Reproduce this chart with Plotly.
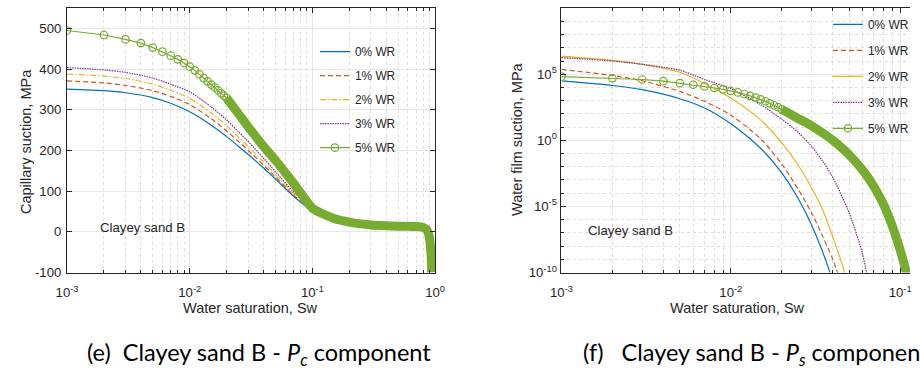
import plotly.graph_objects as go

# ---------------- Capillary suction (Pc) panel ----------------
sw_pc = [0.001, 0.002, 0.003, 0.005, 0.007, 0.01, 0.015, 0.02, 0.025, 0.03,
         0.04, 0.05, 0.07, 0.1, 0.15, 0.2, 0.3, 0.5, 0.7, 0.8]
pc_0wr = [351, 347, 342, 330, 316, 295, 262, 234, 210, 190,
          157, 130, 88, 52, 33, 24, 17, 14, 13, 12]
pc_1wr = [371, 366, 360, 347, 333, 313, 278, 248, 222, 200,
          164, 135, 91, 54, 33, 24, 17, 14, 13, 12]
pc_2wr = [388, 383, 377, 363, 348, 328, 292, 261, 233, 210,
          172, 141, 95, 56, 33, 24, 17, 14, 13, 12]
pc_3wr = [404, 398, 392, 378, 363, 344, 307, 275, 246, 222,
          181, 148, 99, 58, 33, 24, 17, 14, 13, 12]

# 5% WR: individually visible samples, then the densely packed tail
sw_pc_5wr = [0.001, 0.002, 0.003, 0.004, 0.005, 0.006, 0.007, 0.008, 0.009, 0.010,
             0.011, 0.012, 0.013, 0.014, 0.015, 0.016, 0.017, 0.018, 0.019, 0.020]
pc_5wr = [495, 484, 473, 464, 453, 443, 433, 424, 415, 406,
          397, 387, 378, 370, 362, 355, 348, 341, 335, 329]
sw_pc_5wr_tail = [0.02, 0.025, 0.03, 0.035, 0.04, 0.05, 0.06, 0.07, 0.08, 0.1,
                  0.12, 0.15, 0.2, 0.25, 0.3, 0.4, 0.5, 0.6, 0.7, 0.75,
                  0.8, 0.85, 0.88, 0.9, 0.91, 0.92, 0.93, 0.94]
pc_5wr_tail = [329, 290, 258, 232, 210, 176, 146, 120, 96, 58,
               45, 33, 24, 19.5, 17, 15, 14, 13.5, 13, 12.5,
               11, 6, -3, -15, -27, -42, -63, -100]

# ---------------- Water film suction (Ps) panel ----------------
sw_ps_0wr = [0.001, 0.002, 0.003, 0.005, 0.007, 0.01, 0.015, 0.02, 0.025, 0.03, 0.035, 0.04]
ps_0wr = [3.1e4, 1.4e4, 6.8e3, 1.4e3, 2.8e2, 18, 0.25, 3.5e-3, 4e-5, 4e-7, 3.2e-9, 2.5e-11]
sw_ps_1wr = [0.001, 0.002, 0.003, 0.005, 0.007, 0.01, 0.015, 0.02, 0.025, 0.03, 0.035, 0.04, 0.045]
ps_1wr = [2.3e5, 8e4, 3.2e4, 5e3, 9e2, 80, 1.3, 1.6e-2, 2e-4, 3.2e-6, 5e-8, 1e-9, 1.3e-11]
sw_ps_2wr = [0.001, 0.002, 0.003, 0.005, 0.007, 0.01, 0.015, 0.02, 0.025, 0.03, 0.035,
             0.04, 0.045, 0.05]
ps_2wr = [2.3e6, 1.1e6, 5.6e5, 1.4e5, 2e4, 1.6e3, 35, 0.63, 1.3e-2, 2.5e-4, 5e-6,
          5e-8, 6.3e-10, 6.3e-12]
sw_ps_3wr = [0.001, 0.002, 0.003, 0.005, 0.007, 0.01, 0.015, 0.02, 0.025, 0.03, 0.035,
             0.04, 0.05, 0.06, 0.065]
ps_3wr = [1.8e6, 1e6, 5.6e5, 2e5, 4e4, 8e3, 5e2, 40, 4, 0.35, 2.5e-2,
          1.6e-3, 3.2e-6, 2.5e-9, 1.6e-11]

sw_ps_5wr = [0.001, 0.002, 0.003, 0.004, 0.005, 0.006, 0.007, 0.008, 0.009, 0.010,
             0.011, 0.012, 0.013, 0.014, 0.015, 0.016, 0.017, 0.018, 0.019, 0.020]
ps_5wr = [6.5e4, 4.9e4, 4e4, 3e4, 2.1e4, 1.6e4, 1.2e4, 9.1e3, 7.1e3, 5.4e3,
          4.2e3, 3.2e3, 2.3e3, 1.7e3, 1.26e3, 9e2, 6.3e2, 4.5e2, 3.2e2, 2.2e2]
sw_ps_5wr_tail = [0.02, 0.025, 0.03, 0.035, 0.04, 0.05, 0.06, 0.07, 0.08, 0.09,
                  0.1, 0.11, 0.115]
ps_5wr_tail = [2.2e2, 45, 12.6, 3.5, 1.0, 8e-2, 5.6e-3, 3.2e-4, 1.3e-5, 3.2e-7,
               5e-9, 6.3e-11, 6.3e-12]

series_names = ["0% WR", "1% WR", "2% WR", "3% WR", "5% WR"]

# ---------------- styling ----------------
W, H = 920, 372
C_BLUE, C_ORANGE, C_YELLOW, C_PURPLE, C_GREEN = "#0072BD", "#D95319", "#EDB120", "#7E2F8E", "#77AC30"
AX = "#262626"
GRID = "#e6e6e6"
MINOR_GRID = "#dedede"
FONT = "Liberation Sans, Arial, sans-serif"
LW = 1.2


def px_x(p):
    return p / W


def px_y(p):
    return 1 - p / H


fig = go.Figure()


def add_line(x, y, name, color, dash, xa, ya, legend):
    fig.add_trace(go.Scatter(
        x=x, y=y, name=name, mode="lines", xaxis=xa, yaxis=ya,
        line=dict(color=color, width=LW, dash=dash, shape="spline", smoothing=0.8),
        legend=legend, legendgroup=legend + name, showlegend=True))


# Pc panel curves
add_line(sw_pc, pc_0wr, series_names[0], C_BLUE, "solid", "x", "y", "legend")
add_line(sw_pc, pc_1wr, series_names[1], C_ORANGE, "5px,3px", "x", "y", "legend")
add_line(sw_pc, pc_2wr, series_names[2], C_YELLOW, "6px,2px,1.5px,2px", "x", "y", "legend")
add_line(sw_pc, pc_3wr, series_names[3], C_PURPLE, "1.5px,1px", "x", "y", "legend")
fig.add_trace(go.Scatter(
    x=sw_pc_5wr_tail, y=pc_5wr_tail, mode="lines", xaxis="x", yaxis="y",
    line=dict(color=C_GREEN, width=9, shape="spline", smoothing=0.6),
    showlegend=False, hoverinfo="skip"))
fig.add_trace(go.Scatter(
    x=sw_pc_5wr, y=pc_5wr, name=series_names[4], mode="lines+markers", xaxis="x", yaxis="y",
    line=dict(color=C_GREEN, width=LW),
    marker=dict(symbol="circle-open", size=7.5, color=C_GREEN, line=dict(width=1.2, color=C_GREEN)),
    legend="legend", legendgroup="legend5"))

# Ps panel curves
add_line(sw_ps_0wr, ps_0wr, series_names[0], C_BLUE, "solid", "x2", "y2", "legend2")
add_line(sw_ps_1wr, ps_1wr, series_names[1], C_ORANGE, "5px,3px", "x2", "y2", "legend2")
add_line(sw_ps_2wr, ps_2wr, series_names[2], C_YELLOW, "solid", "x2", "y2", "legend2")
add_line(sw_ps_3wr, ps_3wr, series_names[3], C_PURPLE, "1.5px,1px", "x2", "y2", "legend2")
fig.add_trace(go.Scatter(
    x=sw_ps_5wr_tail, y=ps_5wr_tail, mode="lines", xaxis="x2", yaxis="y2",
    line=dict(color=C_GREEN, width=9, shape="spline", smoothing=0.6),
    showlegend=False, hoverinfo="skip"))
fig.add_trace(go.Scatter(
    x=sw_ps_5wr, y=ps_5wr, name=series_names[4], mode="lines+markers", xaxis="x2", yaxis="y2",
    line=dict(color=C_GREEN, width=LW),
    marker=dict(symbol="circle-open", size=7.5, color=C_GREEN, line=dict(width=1.2, color=C_GREEN)),
    legend="legend2", legendgroup="legend25"))

# ---------------- axes ----------------
tick_font = dict(family=FONT, size=13.2, color=AX)
minor_x = [m * 10.0 ** e for e in (-3, -2, -1) for m in range(2, 10)]
minor_y2 = [10.0 ** k for k in range(-10, 11) if k % 5]

common = dict(showline=True, linecolor=AX, linewidth=1, ticks="inside", ticklen=5,
              tickcolor=AX, tickwidth=1, showgrid=True, gridcolor=GRID, gridwidth=1,
              zeroline=False, tickfont=tick_font, mirror="ticks")
minor_style = dict(showgrid=True, gridcolor=MINOR_GRID, griddash="dot",
                   ticks="inside", ticklen=3, tickcolor=AX)

y_dom = [px_y(278.5), px_y(8.3)]

fig.update_layout(
    xaxis=dict(type="log", domain=[px_x(57.3), px_x(434)], range=[-3, 0], anchor="y",
               tickvals=[1e-3, 1e-2, 1e-1, 1],
               ticktext=["10<sup>-3</sup>", "10<sup>-2</sup>", "10<sup>-1</sup>", "10<sup>0</sup>"],
               minor=dict(tickvals=minor_x, **minor_style), ticklabelstandoff=8,
               **common),
    yaxis=dict(domain=y_dom, range=[-100, 550], anchor="x",
               tickvals=[-100, 0, 100, 200, 300, 400, 500],
               ticktext=["-100", "0", "100", "200", "300", "400", "500"],
               ticklabelstandoff=2,
               **common),
    xaxis2=dict(type="log", domain=[px_x(563.3), 1.0], range=[-3, -0.9417], anchor="y2",
                tickvals=[1e-3, 1e-2, 1e-1],
                ticktext=["10<sup>-3</sup>", "10<sup>-2</sup>", "10<sup>-1</sup>"],
                minor=dict(tickvals=minor_x, **minor_style), ticklabelstandoff=8,
                **common),
    yaxis2=dict(type="log", domain=y_dom, range=[-10, 10], anchor="x2",
                tickvals=[1e-10, 1e-5, 1, 1e5, 1e10],
                ticktext=["10<sup>-10</sup>", "10<sup>-5</sup>", "10<sup>0</sup>",
                          "10<sup>5</sup>", "10<sup>10</sup>"],
                minor=dict(tickvals=minor_y2, **minor_style), ticklabelstandoff=1,
                **{k: v for k, v in common.items() if k != "mirror"}),
)

legend_common = dict(font=dict(family=FONT, size=11.9, color=AX), bgcolor="rgba(0,0,0,0)",
                     borderwidth=0, xanchor="left", yanchor="top", itemwidth=30)
fig.update_layout(
    legend=dict(x=px_x(311), y=px_y(38), tracegroupgap=5, **legend_common),
    legend2=dict(x=px_x(836), y=px_y(10), tracegroupgap=7, **legend_common),
)

# ---------------- text ----------------
lbl_font = dict(family=FONT, size=14.5, color=AX)
ann = []
ann.append(dict(text="Water saturation, Sw", x=px_x(245.5), y=px_y(315), xref="paper", yref="paper",
                showarrow=False, font=lbl_font, xanchor="center", yanchor="middle"))
ann.append(dict(text="Water saturation, Sw", x=px_x(743.3), y=px_y(315), xref="paper", yref="paper",
                showarrow=False, font=lbl_font, xanchor="center", yanchor="middle"))
ann.append(dict(text="Capillary suction, MPa", x=px_x(16), y=px_y(144.5), xref="paper", yref="paper",
                showarrow=False, font=lbl_font, textangle=-90, xanchor="center", yanchor="middle"))
ann.append(dict(text="Water film suction, MPa", x=px_x(518.3), y=px_y(142.5), xref="paper", yref="paper",
                showarrow=False, font=lbl_font, textangle=-90, xanchor="center", yanchor="middle"))
ann.append(dict(text="Clayey sand B", x=px_x(89), y=px_y(233), xref="paper", yref="paper",
                showarrow=False, font=dict(family=FONT, size=13.2, color=AX),
                xanchor="left", yanchor="middle"))
ann.append(dict(text="Clayey sand B", x=px_x(588), y=px_y(236), xref="paper", yref="paper",
                showarrow=False, font=dict(family=FONT, size=13.2, color=AX),
                xanchor="left", yanchor="middle"))
cap_font = dict(family="Lato, Carlito, sans-serif", size=23.5, color="#000000")
ann.append(dict(text="(e)&nbsp; Clayey sand B - <i>P</i><sub><i>c</i></sub> component",
                x=px_x(76), y=px_y(362), xref="paper", yref="paper", showarrow=False,
                font=cap_font, xanchor="left", yanchor="middle"))
ann.append(dict(text="(f)&nbsp;&nbsp; Clayey sand B - <i>P</i><sub><i>s</i></sub> component",
                x=px_x(583), y=px_y(362), xref="paper", yref="paper", showarrow=False,
                font=cap_font, xanchor="left", yanchor="middle"))

fig.update_layout(
    annotations=ann,
    width=W, height=H,
    margin=dict(l=0, r=0, t=0, b=0),
    paper_bgcolor="white", plot_bgcolor="white",
    showlegend=True,
)

fig.write_html("out.html")
